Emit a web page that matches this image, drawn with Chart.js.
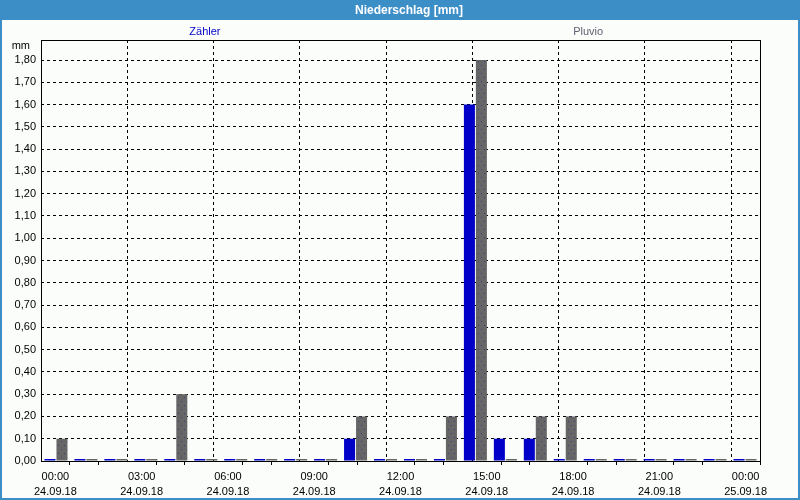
<!DOCTYPE html>
<html>
<head>
<meta charset="utf-8">
<title>Niederschlag</title>
<script src="https://cdn.jsdelivr.net/npm/chart.js@4.4.0/dist/chart.umd.min.js"></script>
<style>
    html, body { margin: 0; padding: 0; background: #fbfdfb; }
    canvas { display: block; }
</style>
</head>
<body>
<canvas id="chart" width="800" height="500"></canvas>
<script>
var stunden = ['00:00', '01:00', '02:00', '03:00', '04:00', '05:00', '06:00', '07:00',
    '08:00', '09:00', '10:00', '11:00', '12:00', '13:00', '14:00', '15:00',
    '16:00', '17:00', '18:00', '19:00', '20:00', '21:00', '22:00', '23:00'];
var zaehler = [0, 0, 0, 0, 0, 0, 0, 0, 0, 0, 0.1, 0, 0, 0, 1.6, 0.1, 0.1, 0, 0, 0, 0, 0, 0, 0];
var pluvio = [0.1, 0, 0, 0, 0.3, 0, 0, 0, 0, 0, 0.2, 0, 0, 0.2, 1.8, 0, 0.2, 0.2, 0, 0, 0, 0, 0, 0];
var yTickLabels = ['0,00', '0,10', '0,20', '0,30', '0,40', '0,50', '0,60', '0,70', '0,80', '0,90',
    '1,00', '1,10', '1,20', '1,30', '1,40', '1,50', '1,60', '1,70', '1,80'];
var xTickLabels = [
    ['00:00', '24.09.18'], ['03:00', '24.09.18'], ['06:00', '24.09.18'],
    ['09:00', '24.09.18'], ['12:00', '24.09.18'], ['15:00', '24.09.18'],
    ['18:00', '24.09.18'], ['21:00', '24.09.18'], ['00:00', '25.09.18']
];
var titel = 'Niederschlag [mm]';
var einheit = 'mm';

var schrift = '"Liberation Sans", Arial, sans-serif';
var blau = 'rgb(0, 0, 200)';
var kopfBlau = 'rgb(60, 142, 198)';
var namePos = [0.228, 0.761];

// grau mit kleinen blauen Punkten wie im Original
function punktMuster() {
    var c = document.createElement('canvas');
    c.width = 6;
    c.height = 8;
    var g = c.getContext('2d');
    g.fillStyle = 'rgb(102, 102, 102)';
    g.fillRect(0, 0, 6, 8);
    g.fillStyle = 'rgb(60, 60, 140)';
    g.fillRect(1, 1, 1, 1);
    g.fillRect(4, 5, 1, 1);
    return g.createPattern(c, 'repeat');
}

var rahmen = {
    id: 'rahmen',
    beforeDraw(chart) {
        var ctx = chart.ctx;
        ctx.save();
        ctx.fillStyle = '#fbfdfb';
        ctx.fillRect(0, 0, chart.width, chart.height);
        ctx.fillStyle = kopfBlau;
        ctx.fillRect(0, 0, chart.width, 20);
        ctx.strokeStyle = kopfBlau;
        ctx.lineWidth = 2;
        ctx.strokeRect(1, 1, chart.width - 2, chart.height - 2);

        ctx.font = 'bold 12px ' + schrift;
        ctx.fillStyle = '#fff';
        ctx.textAlign = 'center';
        ctx.textBaseline = 'middle';
        ctx.fillText(titel, 409, 10.5);
        ctx.restore();
    },
    afterDatasetsDraw(chart) {
        var a = chart.chartArea;
        var ctx = chart.ctx;
        ctx.save();
        ctx.strokeStyle = '#000';
        ctx.lineWidth = 1;
        ctx.strokeRect(Math.round(a.left) + 0.5, Math.round(a.top) + 0.5,
            Math.round(a.right - a.left), Math.round(a.bottom - a.top));

        ctx.font = '11px ' + schrift;
        ctx.textAlign = 'center';
        ctx.textBaseline = 'middle';
        chart.data.datasets.forEach((ds, i) => {
            ctx.fillStyle = ds.textColor;
            ctx.fillText(ds.label, a.left + namePos[i] * (a.right - a.left), 32);
        });

        ctx.textAlign = 'right';
        ctx.fillStyle = '#000';
        ctx.fillText(einheit, 30, 46);
        ctx.restore();
    }
};

var config = {
    type: 'bar',
    data: {
        labels: stunden,
        datasets: [
            {
                label: 'Zähler',
                data: zaehler,
                backgroundColor: blau,
                textColor: blau,
                minBarLength: 2,
                categoryPercentage: 0.8,
                barPercentage: 0.92,
                xAxisID: 'x',
                yAxisID: 'y'
            },
            {
                label: 'Pluvio',
                data: pluvio,
                backgroundColor: punktMuster(),
                textColor: 'rgb(96, 96, 112)',
                minBarLength: 2,
                categoryPercentage: 0.8,
                barPercentage: 0.92,
                xAxisID: 'x',
                yAxisID: 'y'
            }
        ]
    },
    options: {
        responsive: false,
        animation: false,
        layout: { padding: { left: 0, right: 0, top: 40, bottom: 0 } },
        plugins: {
            legend: { display: false },
            tooltip: { enabled: false },
            title: { display: false }
        },
        scales: {
            x: { type: 'category', display: false, offset: true },
            xt: {
                type: 'linear',
                position: 'bottom',
                min: 0,
                max: 24,
                afterFit: s => { s.height = 39; },
                ticks: {
                    stepSize: 1,
                    autoSkip: false,
                    maxRotation: 0,
                    padding: 5,
                    color: '#000',
                    font: { family: schrift, size: 11, lineHeight: 1.35 },
                    callback: v => v % 3 === 0 ? xTickLabels[v / 3] : ''
                },
                grid: {
                    color: c => c.tick && c.tick.value % 3 === 0 ? '#000' : 'rgba(0,0,0,0)',
                    tickColor: c => c.tick && c.tick.value % 3 === 0 ? 'rgba(0,0,0,0)' : '#000',
                    tickLength: 4
                },
                border: { display: false, dash: [3, 3] }
            },
            y: {
                min: 0,
                max: 1.89,
                afterFit: s => { s.width = 41; },
                ticks: {
                    stepSize: 0.1,
                    includeBounds: false,
                    autoSkip: false,
                    padding: 5,
                    color: '#000',
                    font: { family: schrift, size: 11 },
                    callback: (v, i) => yTickLabels[i] || ''
                },
                grid: { color: '#000', drawTicks: false },
                border: { display: false, dash: [3, 3] }
            },
            yr: {
                type: 'linear',
                position: 'right',
                afterFit: s => { s.width = 40; },
                ticks: { display: false },
                grid: { display: false },
                border: { display: false }
            }
        }
    },
    plugins: [rahmen]
};

var chart = new Chart(document.getElementById('chart'), config);
</script>
</body>
</html>
